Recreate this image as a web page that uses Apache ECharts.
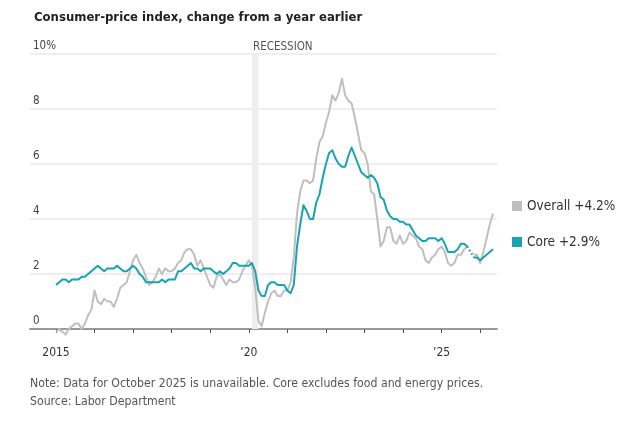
<!DOCTYPE html>
<html>
<head>
<meta charset="utf-8">
<script src="https://cdn.jsdelivr.net/npm/echarts@6/dist/echarts.min.js"></script>
<style>
html,body{margin:0;padding:0;background:#fff;}
#chart{width:630px;height:429px;}
</style>
</head>
<body>
<div id="chart"></div>
<script>
// ---- Data (monthly, Jan 2015 – May 2026); October 2025 unavailable ----
var startYear = 2015;
var overall = [
  -0.1, 0.0, -0.1, -0.2, 0.0, 0.1, 0.2, 0.2, 0.0, 0.2, 0.5, 0.7,
  1.4, 1.0, 0.9, 1.1, 1.0, 1.0, 0.8, 1.1, 1.5, 1.6, 1.7, 2.1,
  2.5, 2.7, 2.4, 2.2, 1.9, 1.6, 1.7, 1.9, 2.2, 2.0, 2.2, 2.1,
  2.1, 2.2, 2.4, 2.5, 2.8, 2.9, 2.9, 2.7, 2.3, 2.5, 2.2, 1.9,
  1.6, 1.5, 1.9, 2.0, 1.8, 1.6, 1.8, 1.7, 1.7, 1.8, 2.1, 2.3,
  2.5, 2.3, 1.5, 0.3, 0.1, 0.6, 1.0, 1.3, 1.4, 1.2, 1.2, 1.4,
  1.4, 1.7, 2.6, 4.2, 5.0, 5.4, 5.4, 5.3, 5.4, 6.2, 6.8, 7.0,
  7.5, 7.9, 8.5, 8.3, 8.6, 9.1, 8.5, 8.3, 8.2, 7.7, 7.1, 6.5,
  6.4, 6.0, 5.0, 4.9, 4.0, 3.0, 3.2, 3.7, 3.7, 3.2, 3.1, 3.4,
  3.1, 3.2, 3.5, 3.4, 3.3, 3.0, 2.9, 2.5, 2.4, 2.6, 2.7, 2.9,
  3.0, 2.8, 2.4, 2.3, 2.4, 2.7, 2.7, 2.9, 3.0, null, 2.7, 2.7,
  2.4, 2.8, 3.3, 3.8, 4.2
];
var core = [
  1.6, 1.7, 1.8, 1.8, 1.7, 1.8, 1.8, 1.8, 1.9, 1.9, 2.0, 2.1,
  2.2, 2.3, 2.2, 2.1, 2.2, 2.2, 2.2, 2.3, 2.2, 2.1, 2.1, 2.2,
  2.3, 2.2, 2.0, 1.9, 1.7, 1.7, 1.7, 1.7, 1.7, 1.8, 1.7, 1.8,
  1.8, 1.8, 2.1, 2.1, 2.2, 2.3, 2.4, 2.2, 2.2, 2.1, 2.2, 2.2,
  2.2, 2.1, 2.0, 2.1, 2.0, 2.1, 2.2, 2.4, 2.4, 2.3, 2.3, 2.3,
  2.3, 2.4, 2.1, 1.4, 1.2, 1.2, 1.6, 1.7, 1.7, 1.6, 1.6, 1.6,
  1.4, 1.3, 1.6, 3.0, 3.8, 4.5, 4.3, 4.0, 4.0, 4.6, 4.9, 5.5,
  6.0, 6.4, 6.5, 6.2, 6.0, 5.9, 5.9, 6.3, 6.6, 6.3, 6.0, 5.7,
  5.6, 5.5, 5.6, 5.5, 5.3, 4.8, 4.7, 4.3, 4.1, 4.0, 4.0, 3.9,
  3.9, 3.8, 3.8, 3.6, 3.4, 3.3, 3.2, 3.2, 3.3, 3.3, 3.3, 3.2,
  3.3, 3.1, 2.8, 2.8, 2.8, 2.9, 3.1, 3.1, 3.0, null, 2.6, 2.6,
  2.5, 2.6, 2.7, 2.8, 2.9
];
var yTicks = [0, 2, 4, 6, 8, 10];
var xLabelYears = {2015: '2015', 2020: '\u201920', 2025: '\u201925'};
var recession = ['2020-02', '2020-04'];
var seriesNames = ['Overall', 'Core'];
var titleText = 'Consumer-price index, change from a year earlier';
var noteText = 'Note: Data for October 2025 is unavailable. Core excludes food and energy prices.';
var sourceText = 'Source: Labor Department';

// month categories
var months = [];
for (var i = 0; i < overall.length; i++) {
  var y = startYear + Math.floor(i / 12), m = (i % 12) + 1;
  months.push(y + '-' + (m < 10 ? '0' + m : m));
}

// keep only the two points around a missing month (drawn dotted)
function gapBridge(arr) {
  return arr.map(function (v, i) {
    var nearGap = arr[i + 1] === null || arr[i - 1] === null;
    return (v !== null && nearGap) ? v : null;
  });
}

var FONT = '"Liberation Sans Narrow", "DejaVu Sans Condensed", sans-serif';
var GRAY = '#bfbfbf', TEAL = '#17a2b5';

var chart = echarts.init(document.getElementById('chart'), null, {renderer: 'canvas'});
var isYearStart = function (idx, val) { return /-01$/.test(val); };

var option = {
  animation: false,
  textStyle: {fontFamily: FONT},
  title: {
    text: titleText, left: 29, top: 6,
    textStyle: {fontFamily: FONT, fontSize: 13, fontWeight: 'bold', color: '#222'}
  },
  legend: {
    data: seriesNames, orient: 'vertical', left: 507, top: 194,
    icon: 'rect', itemWidth: 10, itemHeight: 10, itemGap: 22,
    textStyle: {fontFamily: FONT, fontSize: 13.5, color: '#333'},
    formatter: function (name) {
      var arr = name === 'Overall' ? overall : core;
      var last = arr[arr.length - 1];
      return name + ' +' + last.toFixed(1) + '%';
    }
  },
  graphic: [
    {type: 'text', left: 30, top: 378, style: {text: noteText, font: '12.2px ' + FONT, fill: '#555'}},
    {type: 'text', left: 30, top: 396, style: {text: sourceText, font: '12.2px ' + FONT, fill: '#555'}}
  ],
  grid: [
    {left: 30, right: 133, top: 54, bottom: 100},
    {left: 56, right: 137, top: 54, bottom: 100}
  ],
  xAxis: [
    {gridIndex: 0, type: 'value', min: 0, max: 1,
      axisLine: {show: true, lineStyle: {color: '#9a9a9a', width: 2}},
      axisTick: {show: false}, axisLabel: {show: false}, splitLine: {show: false}},
    {gridIndex: 1, type: 'category', data: months, boundaryGap: false, offset: 7,
      axisLine: {show: false},
      axisTick: {show: true, interval: isYearStart, length: 4, lineStyle: {color: '#555', width: 1}},
      axisLabel: {show: true, interval: isYearStart, margin: 11, fontSize: 12, color: '#333', fontFamily: FONT,
        formatter: function (v) { return xLabelYears[+v.slice(0, 4)] || ''; }},
      splitLine: {show: false}}
  ],
  yAxis: [
    {gridIndex: 0, type: 'value', min: yTicks[0], max: yTicks[yTicks.length - 1], interval: 2,
      axisLine: {show: false}, axisTick: {show: false},
      splitLine: {show: true, lineStyle: {color: '#e9e9e9', width: 1.5}},
      axisLabel: {inside: true, margin: 3, verticalAlign: 'bottom', padding: [0, 0, 2, 0],
        fontSize: 11.5, color: '#444', fontFamily: FONT,
        formatter: function (v) { return v === 10 ? '10%' : String(v); }}},
    {gridIndex: 1, type: 'value', min: yTicks[0], max: yTicks[yTicks.length - 1], show: false}
  ],
  series: [
    {name: 'Overall', type: 'line', xAxisIndex: 1, yAxisIndex: 1, data: overall, clip: false,
      showSymbol: false, symbol: 'none', connectNulls: false, color: GRAY,
      lineStyle: {color: GRAY, width: 2, join: 'round'},
      markArea: {silent: true, itemStyle: {color: '#eeeeee'},
        label: {show: true, position: [1, -13], color: '#555', fontSize: 11.5, fontFamily: FONT},
        data: [[{name: 'RECESSION', xAxis: recession[0]}, {xAxis: recession[1]}]]},
      z: 2},
    {name: 'Overall gap', type: 'line', xAxisIndex: 1, yAxisIndex: 1, data: gapBridge(overall),
      showSymbol: false, symbol: 'none', connectNulls: true,
      lineStyle: {color: GRAY, width: 2, type: [1.5, 2.5]}, z: 2},
    {name: 'Core', type: 'line', xAxisIndex: 1, yAxisIndex: 1, data: core,
      showSymbol: false, symbol: 'none', connectNulls: false, color: TEAL,
      lineStyle: {color: TEAL, width: 2, join: 'round'}, z: 3},
    {name: 'Core gap', type: 'line', xAxisIndex: 1, yAxisIndex: 1, data: gapBridge(core),
      showSymbol: false, symbol: 'none', connectNulls: true,
      lineStyle: {color: TEAL, width: 2, type: [1.5, 2.5]}, z: 3}
  ]
};
chart.setOption(option);
</script>
</body>
</html>
